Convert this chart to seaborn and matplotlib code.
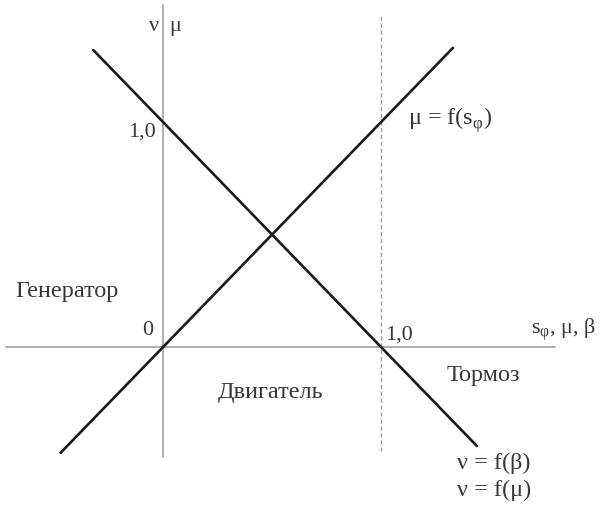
import numpy as np
import pandas as pd
import seaborn as sns
import matplotlib.pyplot as plt

# =============================================================================
# Data
# =============================================================================

# mu = f(s_phi), rising line through the origin
mu_x = [-0.47, 1.33]
mu_y = [-0.47, 1.33]

# nu = f(beta), nu = f(mu), falling line through (0, 1) and (1, 0)
nu_x = [-0.32, 1.44]
nu_y = [1.32, -0.44]

# axes extents
h_axis_x = [-0.72, 1.80]
v_axis_y = [-0.49, 1.52]
unit_line_y = [-0.46, 1.48]

df = pd.concat([
    pd.DataFrame({"x": mu_x, "y": mu_y, "curve": "mu"}),
    pd.DataFrame({"x": nu_x, "y": nu_y, "curve": "nu"}),
])

# =============================================================================
# Plot
# =============================================================================

sns.set_style("white")
plt.rcParams['font.family'] = ['Liberation Serif', 'DejaVu Serif']

f = plt.figure(figsize=(6.01, 5.06), dpi=100)
ax = f.add_axes([0, 0, 1, 1])

axis_color = "#a0a0a0"
ax.plot(h_axis_x, [0, 0], color=axis_color, lw=1.2)
ax.plot([0, 0], v_axis_y, color=axis_color, lw=1.2)
ax.plot([1, 1], unit_line_y, color=axis_color, lw=1.0, linestyle=(0, (3, 2)))

sns.lineplot(data=df, x="x", y="y", units="curve", estimator=None,
             color="#1a1a1a", lw=1.9, ax=ax, legend=False)

txt = dict(color="#383838", fontsize=17.5, va="center")
small = dict(txt, fontsize=16)
ax.text(-0.02, 1.43, "ν", ha="right", **small)
ax.text(0.03, 1.43, "μ", ha="left", **small)
ax.text(-0.035, 0.96, "1,0", ha="right", **small)
ax.text(-0.045, 0.08, "0", ha="right", **small)
ax.text(1.018, 0.06, "1,0", ha="left", **small)
ax.text(1.69, 0.08, "s$_\\mathregular{φ}$, μ, β", ha="left", **small)
ax.text(-0.68, 0.25, "Генератор", ha="left", **txt)
ax.text(0.252, -0.196, "Двигатель", ha="left", **txt)
ax.text(1.30, -0.12, "Тормоз", ha="left", **txt)
ax.text(1.124, 1.013, "μ = f(s$_\\mathregular{φ}$)", ha="left", **txt)
ax.text(1.349, -0.511, "ν = f(β)", ha="left", **txt)
ax.text(1.349, -0.631, "ν = f(μ)", ha="left", **txt)

ax.set_xlim(-0.748, 2.009)
ax.set_ylim(-0.702, 1.547)
ax.set_axis_off()

plt.savefig("out.png", dpi=100)
plt.close()
